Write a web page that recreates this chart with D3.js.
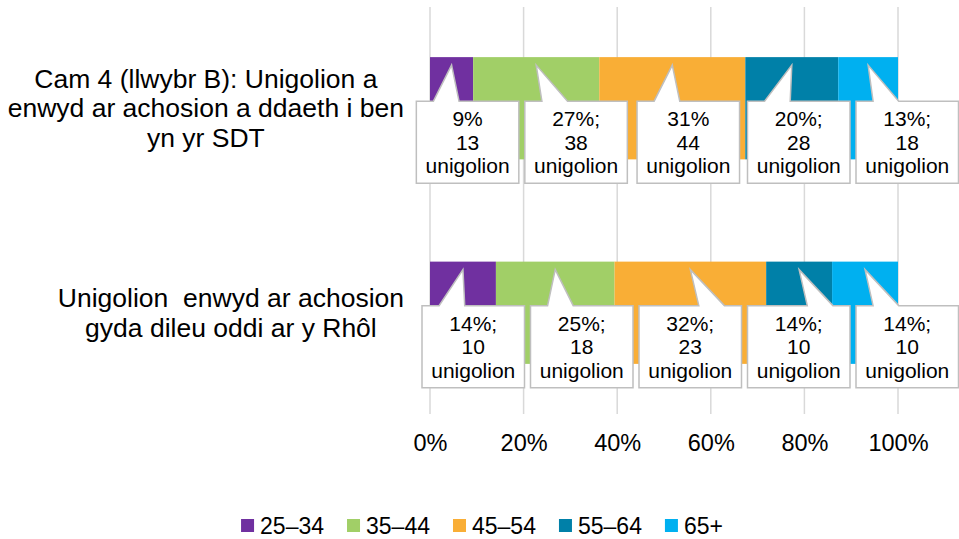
<!DOCTYPE html>
<head>
  <meta charset="utf-8">
  <script src="https://d3js.org/d3.v7.min.js"></script>
  <style>
  body {
    margin: 0;
    background: #fff;
  }
  text {
    font-family: "Liberation Sans", Arial, sans-serif;
    fill: #000;
  }
  </style>
</head>
<body>
<svg width="959" height="539"></svg>

<script type="text/javascript">
// The data
var ageGroups = ["25–34", "35–44", "45–54", "55–64", "65+"];
var colours = ["#7030a0", "#a1cf67", "#f9ae36", "#0080a8", "#00b0f0"];
var categoryLines = [
  ["Cam 4 (llwybr B): Unigolion a", "enwyd ar achosion a ddaeth i ben", "yn yr SDT"],
  ["Unigolion  enwyd ar achosion", "gyda dileu oddi ar y Rhôl"]
];
var countsCam4 = [13, 38, 44, 28, 18];
var countsRemoved = [10, 18, 23, 10, 10];
var pctCam4 = ["9%", "27%;", "31%", "20%;", "13%;"];
var pctRemoved = ["14%;", "25%;", "32%;", "14%;", "14%;"];
var tickValues = [0, 0.2, 0.4, 0.6, 0.8, 1];
var unitWord = "unigolion";

var allCounts = [countsCam4, countsRemoved];
var allPct = [pctCam4, pctRemoved];

// one row per category, keyed by age group, for d3.stack
var rows = allCounts.map(function (c, i) {
  var r = { id: i };
  ageGroups.forEach(function (g, j) { r[g] = c[j]; });
  return r;
});
var series = d3.stack().keys(ageGroups).offset(d3.stackOffsetExpand)(rows);

var svg = d3.select("svg");

var x = d3.scaleLinear().domain([0, 1]).range([430, 898]);
var y = d3.scaleBand().domain([0, 1]).range([6, 415])
    .paddingInner(0.5).paddingOuter(0.25);

// gridlines
svg.append("g").selectAll("line")
  .data(tickValues)
  .join("line")
    .attr("x1", x).attr("x2", x)
    .attr("y1", 7).attr("y2", 414)
    .attr("stroke", "#d9d9d9")
    .attr("stroke-width", 1.5);

// x axis labels
var axis = svg.append("g")
    .attr("transform", "translate(0," + (451 - 0.71 * 23.5) + ")")
    .call(d3.axisBottom(x).tickValues(tickValues)
      .tickFormat(d3.format(".0%")).tickSize(0).tickPadding(0));
axis.select(".domain").remove();
axis.attr("font-family", null).attr("font-size", null);
axis.selectAll("text").style("font-size", "23.5px");

// bars
series.forEach(function (s, j) {
  svg.append("g").selectAll("rect")
    .data(s)
    .join("rect")
      .attr("x", function (d) { return x(d[0]); })
      .attr("y", function (d, i) { return y(i); })
      .attr("width", function (d) { return x(d[1]) - x(d[0]); })
      .attr("height", y.bandwidth())
      .attr("fill", colours[j]);
});

// category labels: block right-aligned to the axis, lines centred in it
categoryLines.forEach(function (lines, i) {
  var g = svg.append("g");
  var mid = y(i) + y.bandwidth() / 2;
  var t = g.selectAll("text")
    .data(lines)
    .join("text")
      .style("font-size", "26.5px")
      .style("white-space", "pre")
      .attr("text-anchor", "middle")
      .attr("y", function (d, k) { return mid + (k - (lines.length - 1) / 2) * 29.5 + 9; })
      .text(function (d) { return d; });
  var maxW = d3.max(t.nodes(), function (n) { return n.getComputedTextLength(); });
  t.attr("x", 404 - maxW / 2);
});

// data callouts
var boxW = 102.5, boxH = 82, boxGap = 6, rightLimit = 958.5;
allCounts.forEach(function (counts, i) {
  var segs = series.map(function (s) { return s[i]; });
  var tipX = segs.map(function (d) { return (x(d[0]) + x(d[1])) / 2; });
  var cx = tipX.map(function (v) { return v + 16; });
  // push boxes apart, keep them inside the picture
  for (var k = 1; k < cx.length; k++) cx[k] = Math.max(cx[k], cx[k - 1] + boxW + boxGap);
  cx[cx.length - 1] = Math.min(cx[cx.length - 1], rightLimit - boxW / 2);
  for (k = cx.length - 2; k >= 0; k--) cx[k] = Math.min(cx[k], cx[k + 1] - boxW - boxGap);

  var top = y(i) + 44, tipY = y(i) + 8;

  segs.forEach(function (d, j) {
    var left = cx[j] - boxW / 2, right = cx[j] + boxW / 2, bottom = top + boxH;
    var f = tipX[j] < cx[j] ? [2, 5] : [7, 10];
    var b1 = left + boxW * f[0] / 12, b2 = left + boxW * f[1] / 12;
    var p = d3.path();
    p.moveTo(left, top);
    p.lineTo(b1, top);
    p.lineTo(tipX[j], tipY);
    p.lineTo(b2, top);
    p.lineTo(right, top);
    p.lineTo(right, bottom);
    p.lineTo(left, bottom);
    p.closePath();
    svg.append("path")
      .attr("d", p.toString())
      .attr("fill", "#fff")
      .attr("stroke", "#bfbfbf")
      .attr("stroke-width", 1.5);

    var lines = [allPct[i][j], String(counts[j]), unitWord];
    svg.append("g").selectAll("text")
      .data(lines)
      .join("text")
        .style("font-size", "21px")
        .attr("text-anchor", "middle")
        .attr("x", cx[j])
        .attr("y", function (t, k) { return top + boxH / 2 + (k - 1) * 23.5 + 7.5; })
        .text(function (t) { return t; });
  });
});

// legend
var legend = svg.append("g");
var items = legend.selectAll("g")
  .data(ageGroups)
  .join("g");
items.append("rect")
  .attr("width", 13).attr("height", 13)
  .attr("y", 519)
  .attr("fill", function (d, j) { return colours[j]; });
items.append("text")
  .style("font-size", "23px")
  .attr("x", 19)
  .attr("y", 533.5)
  .text(function (d) { return d; });
var pos = 0, offsets = [];
items.each(function () {
  offsets.push(pos);
  pos += 19 + d3.select(this).select("text").node().getComputedTextLength() + 23;
});
var legendW = pos - 23;
var start = 482 - legendW / 2;
items.attr("transform", function (d, j) { return "translate(" + (start + offsets[j]) + ",0)"; });
</script>
</body>
</html>
